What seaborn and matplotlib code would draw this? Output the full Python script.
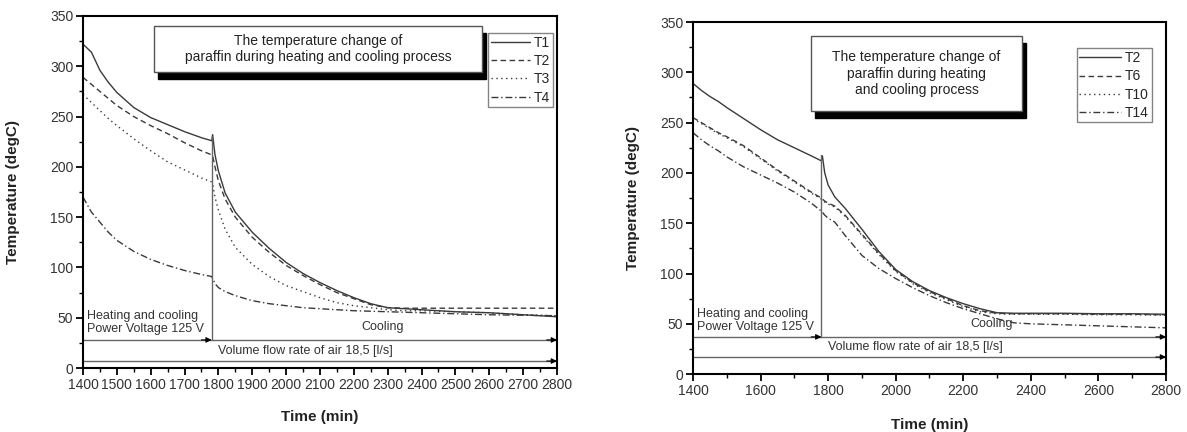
import numpy as np
import pandas as pd
import seaborn as sns
import matplotlib.pyplot as plt

# ---- data -------------------------------------------------------------
time_min = [1400, 1425, 1450, 1475, 1500, 1550, 1600, 1650, 1700, 1750, 1780,
            1783, 1790, 1800, 1820, 1850, 1900, 1950, 2000, 2050, 2100, 2150,
            2200, 2250, 2300, 2350, 2400, 2500, 2600, 2700, 2800]

# left panel: T1..T4
t1 = [322, 314, 296, 284, 274, 259, 249, 242, 235, 229, 226,
      232, 212, 196, 174, 155, 135, 119, 105, 94, 85, 77,
      70, 64, 60, 59, 58, 56, 55, 53, 51]
t2 = [289, 282, 275, 268, 261, 250, 241, 233, 224, 216, 212,
      211, 200, 186, 168, 150, 130, 115, 102, 92, 83, 75,
      69, 63, 60, 59.5, 59.5, 59.5, 59.5, 59.5, 59.5]
t3 = [272, 264, 256, 248, 241, 228, 216, 205, 197, 189, 185,
      183, 170, 157, 138, 120, 103, 91, 82, 76, 70, 65,
      62, 60, 58, 57, 57, 56, 55, 53, 52]
t4 = [170, 155, 145, 135, 127, 116, 108, 102, 97, 93, 91,
      89, 84, 80, 76, 72, 67, 64, 62, 60, 59, 58,
      57, 56.5, 56, 55.5, 55, 54, 53, 52.5, 52]

# right panel: T2, T6, T10, T14
r_t2 = [289, 282, 276, 271, 265, 254, 243, 233, 225, 217, 212,
        217, 200, 188, 176, 165, 144, 122, 104, 92, 83, 76,
        70, 65, 61, 60.5, 60.5, 60.5, 60, 60, 59.5]
r_t6 = [255, 250, 245, 240, 236, 227, 215, 203, 192, 181, 175,
        174, 172, 170, 167, 158, 139, 120, 103, 91, 82, 75,
        68, 63, 60.5, 60, 60, 60, 59.5, 59.5, 59]
r_t10 = [254, 249, 244, 239, 235, 226, 214, 202, 191, 180, 174,
         173, 171, 169, 166, 157, 138, 119, 102, 90, 81, 74,
         67, 62, 60, 59.5, 59.5, 59.5, 59, 59, 58.5]
r_t14 = [240, 233, 227, 222, 216, 206, 198, 190, 181, 170, 162,
         161, 158, 155, 151, 138, 118, 105, 95, 86, 78, 71,
         65, 60, 55, 51, 50, 49, 48, 47, 46]

left_labels = ["T1", "T2", "T3", "T4"]
right_labels = ["T2", "T6", "T10", "T14"]

# annotation levels (degC) and switch time
switch_time = 1780
left_arrow_levels = [28, 7]
right_arrow_levels = [37, 17]
left_spike = 231
right_spike = 218

# ---- style ------------------------------------------------------------
sns.set_theme(style="ticks")
plt.rcParams["font.family"] = ["Liberation Sans", "DejaVu Sans"]
plt.rcParams["axes.linewidth"] = 1.5
plt.rcParams["xtick.major.width"] = 1.3
plt.rcParams["ytick.major.width"] = 1.3
plt.rcParams["xtick.minor.width"] = 1.0
plt.rcParams["ytick.minor.width"] = 1.0

LINE = "#3a3a3a"
styles = ["-", (0, (4, 2.5)), (0, (1, 2.5)), (0, (5, 2, 1, 2))]

fig = plt.figure(figsize=(11.87, 4.32), dpi=100)
axL = fig.add_axes([0.0699, 0.148, 0.3993, 0.815])
axR = fig.add_axes([0.5838, 0.134, 0.3985, 0.815])


def draw_series(ax, series, labels):
    for vals, lab, ls in zip(series, labels, styles):
        df = pd.DataFrame({"Time (min)": time_min, "Temperature (degC)": vals})
        sns.lineplot(data=df, x="Time (min)", y="Temperature (degC)", ax=ax,
                     color=LINE, linestyle=ls, linewidth=1.0, label=lab)


def style_axes(ax, major_x, minor_x, ylab_x, xlab_y):
    ax.set_xlim(1400, 2800)
    ax.set_ylim(0, 350)
    ax.set_xticks(np.arange(1400, 2801, major_x))
    ax.set_xticks(np.arange(1400, 2801, minor_x), minor=True)
    ax.set_yticks(np.arange(0, 351, 50))
    ax.set_yticks(np.arange(0, 351, 25), minor=True)
    ax.tick_params(which="major", direction="out", length=5, labelsize=10,
                   labelcolor="#333333", color="black", pad=2)
    ax.tick_params(which="minor", direction="out", length=3, color="black")
    for s in ax.spines.values():
        s.set_visible(True)
        s.set_color("black")
    ax.set_xlabel("Time (min)", fontsize=11, fontweight="bold", color="#222222")
    ax.set_ylabel("Temperature (degC)", fontsize=11, fontweight="bold", color="#222222")
    ax.yaxis.set_label_coords(ylab_x, 0.5)
    ax.xaxis.set_label_coords(0.5, xlab_y)


def title_box(ax, x0, y0, x1, y1, lines):
    sh = 0.009
    ax.add_patch(plt.Rectangle((x0 + sh, y0 - sh * 2.3), x1 - x0, y1 - y0,
                               transform=ax.transAxes, facecolor="black",
                               edgecolor="black", zorder=5))
    ax.add_patch(plt.Rectangle((x0, y0), x1 - x0, y1 - y0,
                               transform=ax.transAxes, facecolor="white",
                               edgecolor="#555555", linewidth=1.0, zorder=6))
    ax.text((x0 + x1) / 2, (y0 + y1) / 2, "\n".join(lines), transform=ax.transAxes,
            ha="center", va="center", fontsize=10, color="#222222",
            linespacing=1.25, zorder=7)


def arrows(ax, levels, spike, vol_text_y, cool_xy, head_text_y):
    lc = "#666666"
    top, bottom = levels
    segs = [((1400, top), (switch_time, top)),
            ((switch_time, top), (2800, top)),
            ((1400, bottom), (2800, bottom))]
    for (xa, ya), (xb, yb) in segs:
        ax.plot([xa, xb], [ya, yb], color=lc, lw=1.0)
        ax.annotate("", xy=(xb, yb), xytext=(xb - 30, yb),
                    arrowprops=dict(arrowstyle="-|>", color="black", lw=0.8,
                                    mutation_scale=8, shrinkA=0, shrinkB=0))
    ax.plot([switch_time, switch_time], [top, spike], color=lc, lw=1.0)
    ax.text(1412, head_text_y, "Heating and cooling\nPower Voltage 125 V",
            fontsize=9, color="#333333", va="center", linespacing=1.1)
    ax.text(1800, vol_text_y, "Volume flow rate of air 18,5 [l/s]",
            fontsize=9, color="#333333", va="center")
    ax.text(cool_xy[0], cool_xy[1], "Cooling", fontsize=9, color="#333333",
            ha="center", va="center")


# ---- left panel -------------------------------------------------------
draw_series(axL, [t1, t2, t3, t4], left_labels)
style_axes(axL, 100, 50, -0.133, -0.119)
title_box(axL, 0.150, 0.841, 0.842, 0.972,
          ["The temperature change of",
           "paraffin during heating and cooling process"])
arrows(axL, left_arrow_levels, left_spike, 17, (2285, 41), 45)
legL = axL.legend(loc="upper right", bbox_to_anchor=(0.992, 0.951), frameon=True,
                  fancybox=False, edgecolor="#666666", fontsize=10,
                  handlelength=2.8, handletextpad=0.3, labelspacing=0.3,
                  borderpad=0.2, borderaxespad=0, markerfirst=True)
legL.get_frame().set_linewidth(1.0)

# ---- right panel ------------------------------------------------------
draw_series(axR, [r_t2, r_t6, r_t10, r_t14], right_labels)
style_axes(axR, 200, 100, -0.112, -0.125)
title_box(axR, 0.249, 0.747, 0.696, 0.960,
          ["The temperature change of",
           "paraffin during heating",
           "and cooling process"])
arrows(axR, right_arrow_levels, right_spike, 27, (2285, 50), 53)
legR = axR.legend(loc="upper right", bbox_to_anchor=(0.970, 0.925), frameon=True,
                  fancybox=False, edgecolor="#666666", fontsize=10,
                  handlelength=3.0, handletextpad=0.3, labelspacing=0.3,
                  borderpad=0.2, borderaxespad=0)
legR.get_frame().set_linewidth(1.0)

fig.savefig("out.png", dpi=100, facecolor="white")
